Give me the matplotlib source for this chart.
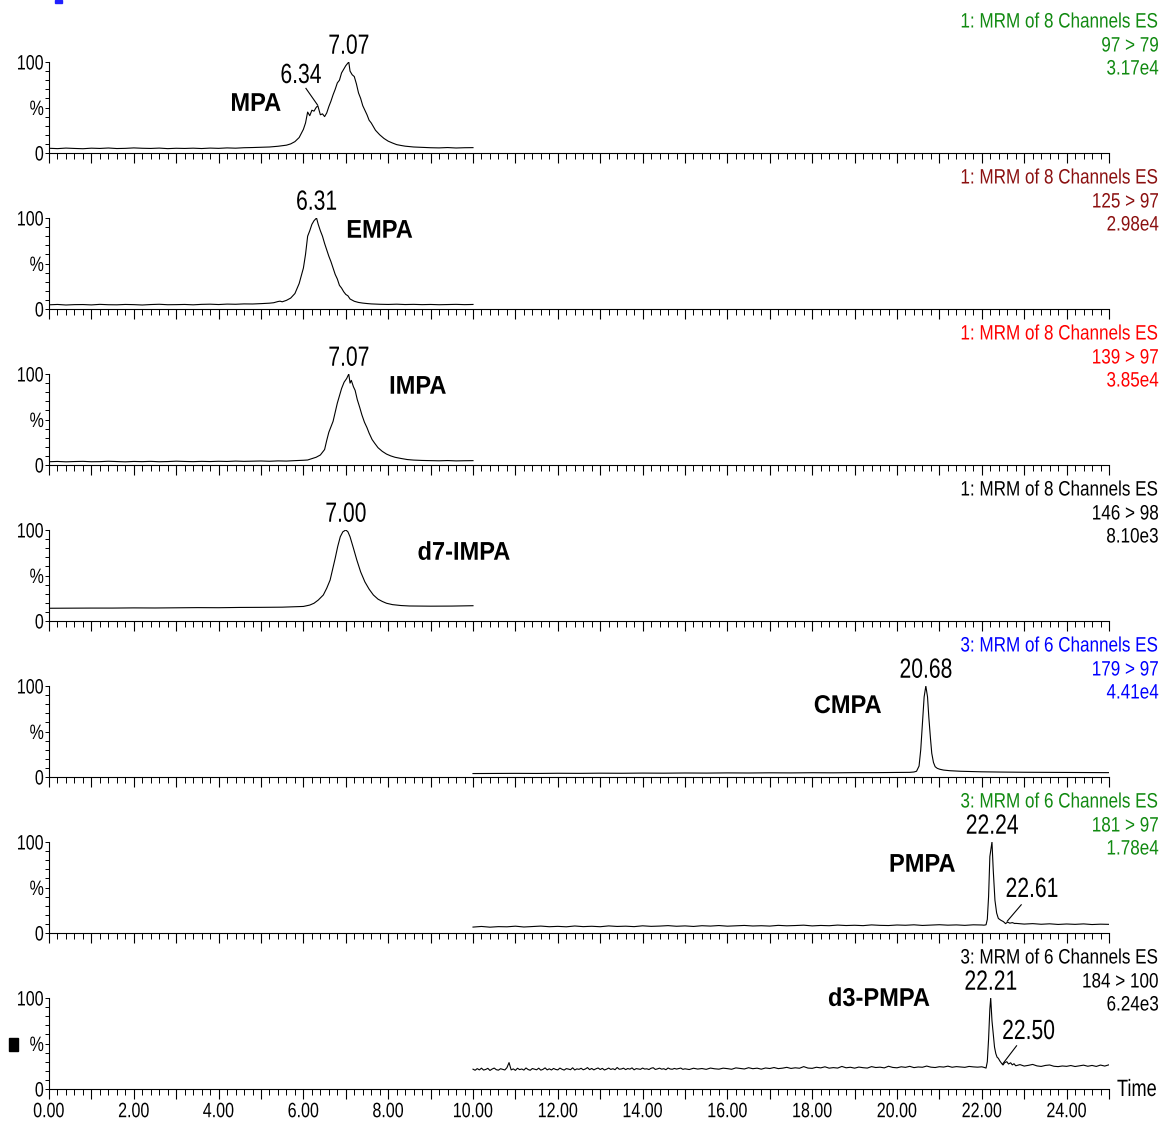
import numpy as np
import matplotlib
matplotlib.use("Agg")
import matplotlib.pyplot as plt
from matplotlib.ticker import MultipleLocator, FixedLocator, FuncFormatter
from matplotlib.patches import Rectangle
from matplotlib.patheffects import AbstractPathEffect
from matplotlib.transforms import Affine2D

plt.rcParams['font.family'] = ['Liberation Sans', 'DejaVu Sans']

# ---------------------------------------------------------------- data
# Each trace: uniform baseline scans before the peak, explicit points
# across the peak, uniform baseline scans after it (time in min, % of max).

# MPA  (97 > 79)
mpa_pre_start, mpa_pre_step = 0.0, 0.2
mpa_pre = [5.2, 4.8, 5.4, 5.0, 4.7, 5.3, 5.0, 5.5, 4.9, 5.1,
           5.6, 5.2, 5.0, 5.4, 4.8, 5.2, 5.0, 5.3, 4.9, 5.4,
           5.1, 5.6, 5.3, 5.8, 6.0, 6.3]
mpa_pk_t = [5.2, 5.4, 5.6, 5.7, 5.8, 5.9, 6.0, 6.05, 6.1, 6.15, 6.2, 6.25, 6.3,
            6.34, 6.4, 6.45, 6.5, 6.55, 6.6, 6.65, 6.7, 6.75, 6.8, 6.85, 6.9,
            6.95, 7.0, 7.07, 7.1, 7.15, 7.2, 7.25, 7.3, 7.35, 7.4, 7.45, 7.5,
            7.55, 7.6, 7.7, 7.8, 7.9, 8.0, 8.1, 8.2, 8.3, 8.4]
mpa_pk_y = [6.6, 7.4, 8.6, 10.0, 12.5, 17.0, 26.0, 33.0, 45.0, 41.0, 47.0, 46.0, 50.0,
            52.0, 42.0, 43.0, 40.0, 44.0, 51.0, 57.0, 64.0, 70.0, 77.0, 80.0, 88.0,
            92.0, 96.0, 100.0, 90.0, 86.0, 84.0, 76.0, 66.0, 60.0, 52.0, 47.0, 42.0,
            36.0, 33.0, 25.0, 20.0, 16.0, 13.0, 11.0, 9.2, 8.3, 7.5]
mpa_post_start, mpa_post_step = 8.6, 0.2
mpa_post = [6.6, 6.2, 5.8, 5.6, 6.0, 5.5, 5.8, 5.9]

# EMPA (125 > 97)
empa_pre_start, empa_pre_step = 0.0, 0.2
empa_pre = [4.6, 5.0, 4.4, 4.8, 4.9, 4.5, 5.1, 4.7, 4.6, 5.0,
            4.8, 4.4, 4.9, 5.2, 4.7, 4.8, 5.0, 4.6, 5.1, 5.3,
            4.9, 5.4, 5.2, 5.6, 5.5, 5.9]
empa_pk_t = [5.2, 5.3, 5.4, 5.45, 5.5, 5.6, 5.7, 5.8, 5.9, 6.0, 6.05, 6.1, 6.15,
             6.2, 6.25, 6.31, 6.35, 6.4, 6.45, 6.5, 6.55, 6.6, 6.65, 6.7, 6.75,
             6.8, 6.85, 6.9, 6.95, 7.0, 7.05, 7.1, 7.2, 7.3, 7.4, 7.5]
empa_pk_y = [6.4, 6.9, 8.2, 8.6, 7.9, 9.5, 12.0, 17.0, 28.0, 45.0, 60.0, 80.0, 86.0,
             93.0, 97.0, 100.0, 93.0, 86.0, 80.0, 72.0, 65.0, 58.0, 52.0, 45.0, 38.0,
             33.0, 26.0, 23.0, 19.0, 16.0, 14.5, 11.0, 8.5, 7.2, 6.5, 6.0]
empa_post_start, empa_post_step = 7.6, 0.2
empa_post = [5.6, 5.2, 5.0, 5.3, 4.9, 5.1, 4.8, 5.0, 4.7, 4.9, 5.1, 4.8, 5.0]

# IMPA (139 > 97)
impa_pre_start, impa_pre_step = 0.0, 0.2
impa_pre = [3.6, 3.9, 3.5, 3.8, 4.0, 3.6, 3.7, 4.1, 3.8, 3.5,
            3.9, 3.7, 4.0, 3.6, 3.8, 4.2, 3.9, 3.7, 4.0, 3.8,
            4.1, 3.9, 4.3, 4.0, 4.2, 4.4, 4.1, 4.5, 4.3, 4.8,
            5.2]
impa_pk_t = [6.1, 6.2, 6.3, 6.4, 6.5, 6.55, 6.6, 6.65, 6.7, 6.75, 6.8, 6.85, 6.9,
             6.96, 7.02, 7.07, 7.1, 7.13, 7.18, 7.22, 7.27, 7.33, 7.38, 7.44, 7.5,
             7.55, 7.62, 7.68, 7.76, 7.86, 7.96, 8.06, 8.16, 8.3, 8.45]
impa_pk_y = [5.5, 7.0, 8.5, 11.0, 17.0, 27.0, 36.0, 42.0, 48.0, 58.0, 68.0, 76.0, 84.0,
             91.0, 95.0, 100.0, 90.0, 93.0, 86.0, 82.0, 72.0, 63.0, 55.0, 47.0, 41.0,
             35.0, 28.0, 24.0, 19.0, 15.0, 12.0, 10.0, 8.5, 7.2, 6.0]
impa_post_start, impa_post_step = 8.6, 0.2
impa_post = [5.4, 5.0, 4.8, 4.6, 4.9, 4.5, 4.7, 4.8]

# d7-IMPA (146 > 98)
d7_pre_start, d7_pre_step = 0.0, 0.5
d7_pre = [14.0, 14.1, 14.2, 14.2, 14.4, 14.3, 14.5, 14.7, 14.6, 14.9, 15.0, 15.2, 16.0]
d7_pk_t = [6.15, 6.25, 6.35, 6.47, 6.55, 6.63, 6.69, 6.75, 6.81, 6.87, 6.93, 7.0,
           7.05, 7.1, 7.18, 7.26, 7.35, 7.45, 7.55, 7.65, 7.76, 7.86, 7.96, 8.1, 8.3]
d7_pk_y = [17.5, 19.5, 23.0, 28.6, 36.0, 45.0, 57.0, 69.0, 82.0, 92.6, 98.0, 100.0,
           98.0, 92.6, 80.0, 67.0, 54.0, 43.0, 35.0, 28.6, 24.0, 21.5, 19.5, 18.0, 17.0]
d7_post_start, d7_post_step = 8.5, 0.5
d7_post = [16.5, 16.3, 16.4, 16.8]

# CMPA (179 > 97)
cmpa_pre_start, cmpa_pre_step = 10.0, 0.5
cmpa_pre = [3.8, 3.9, 4.0, 3.9, 4.1, 4.0, 4.2, 4.1, 4.3, 4.2,
            4.4, 4.3, 4.5, 4.4, 4.6, 4.5, 4.7, 4.6, 4.8, 4.8, 5.0]
cmpa_pk_t = [20.3, 20.4, 20.46, 20.52, 20.56, 20.6, 20.64, 20.68, 20.72, 20.75,
             20.79, 20.82, 20.86, 20.9, 20.95, 21.01, 21.1, 21.25, 21.5]
cmpa_pk_y = [5.1, 5.5, 6.3, 12.0, 30.0, 59.0, 88.0, 100.0, 88.0, 66.0,
             42.0, 26.0, 16.0, 11.3, 9.5, 8.5, 7.6, 6.9, 6.3]
cmpa_post_start, cmpa_post_step = 22.0, 0.5
cmpa_post = [5.7, 5.4, 5.2, 5.1, 5.0, 4.9, 4.8]

# PMPA (181 > 97)
pmpa_pre_start, pmpa_pre_step = 10.0, 0.2
pmpa_pre = [6.5, 7.2, 6.4, 7.0, 6.8, 7.5, 6.6, 7.1, 7.6, 6.9,
            7.3, 6.8, 7.7, 7.0, 7.4, 6.9, 7.8, 7.2, 7.5, 7.0,
            7.9, 7.3, 7.6, 8.1, 7.4, 7.8, 7.2, 8.0, 7.6, 8.2,
            7.5, 7.9, 8.3, 7.7, 8.0, 7.6, 8.4, 7.9, 8.2, 8.6,
            7.8, 8.3, 8.0, 8.7, 8.2, 8.5, 8.1, 8.9, 8.4, 8.2,
            8.8, 8.5, 9.0, 8.3, 8.7, 9.1, 8.6, 8.9, 8.4, 9.0,
            8.8]
pmpa_pk_t = [22.05, 22.1, 22.13, 22.16, 22.19, 22.24, 22.27, 22.31, 22.35, 22.39,
             22.45, 22.51, 22.56, 22.61, 22.66, 22.72, 22.78]
pmpa_pk_y = [8.6, 9.0, 15.0, 40.0, 84.0, 100.0, 69.0, 36.0, 22.0, 16.0,
             14.0, 12.5, 10.3, 12.0, 10.8, 11.4, 10.4]
pmpa_post_start, pmpa_post_step = 22.8, 0.2
pmpa_post = [10.6, 9.8, 10.3, 9.6, 10.1, 9.4, 9.9, 9.5, 10.0, 9.3, 9.7, 9.5]

# d3-PMPA (184 > 100)
d3_pre_start, d3_pre_step = 10.0, 0.05
d3_pre = [21.8, 20.6, 22.4, 21.0, 22.9, 20.8, 21.5, 22.7, 20.4, 21.9,
          23.0, 21.2, 20.7, 22.3, 21.6, 20.9, 23.4, 29.0, 21.0, 22.1,
          20.5, 22.8, 21.3, 22.0, 20.8, 23.1, 21.4, 20.6, 22.5, 21.8,
          21.1, 22.9, 20.7, 21.6, 23.2, 21.0, 22.2, 20.9, 22.6, 21.5,
          21.0, 23.0, 21.7, 20.8, 22.4, 21.9, 21.2, 23.3, 20.9, 22.1,
          21.6, 22.8, 21.1, 22.0, 23.5, 21.3, 22.6, 21.0, 22.2, 23.1,
          21.4, 22.7, 20.9, 21.8, 23.0, 21.5, 22.3, 21.2, 23.6, 21.7,
          22.0, 22.9, 21.3, 22.5, 21.8, 23.2, 21.1, 22.4, 22.0, 21.6,
          23.0, 21.9, 22.2, 21.4, 22.8, 23.4, 21.5, 22.1, 22.9, 21.8,
          22.3, 21.2, 23.1, 22.0, 21.7, 22.6, 21.9, 22.4, 23.0, 21.6,
          22.2]
d3_mid_start, d3_mid_step = 15.1, 0.1
d3_mid = [21.4, 22.8, 21.9, 22.5, 21.6, 23.0, 22.2, 21.8, 22.9, 22.4,
          21.7, 23.2, 22.6, 22.0, 23.4, 22.3, 22.9, 21.8, 23.1, 22.5,
          23.6, 22.4, 22.9, 23.8, 22.6, 23.3, 22.8, 24.6, 23.0, 22.7,
          23.9, 23.2, 24.4, 22.9, 23.5, 23.0, 24.8, 23.3, 23.9, 22.9,
          24.1, 23.4, 23.0, 24.6, 23.6, 24.0, 23.2, 25.0, 23.7, 23.3,
          24.4, 23.8, 24.9, 23.5, 24.2, 23.9, 25.2, 24.0, 23.6, 24.5,
          24.1, 25.1, 23.9, 24.6, 24.2, 23.8, 24.8, 24.3, 24.0, 24.4]
d3_pk_t = [22.05, 22.1, 22.13, 22.16, 22.19, 22.21, 22.24, 22.27, 22.3, 22.33,
           22.36, 22.39, 22.43, 22.47, 22.5, 22.54, 22.59, 22.63, 22.68, 22.72, 22.76]
d3_pk_y = [23.8, 23.0, 30.0, 55.0, 88.0, 100.0, 75.0, 61.0, 46.0, 39.0,
           35.0, 33.7, 30.5, 28.0, 26.4, 29.0, 30.0, 27.5, 28.8, 26.5, 27.8]
d3_post_start, d3_post_step = 22.8, 0.1
d3_post = [25.5, 26.8, 25.2, 26.0, 27.0, 25.4, 24.8, 25.9, 26.4, 25.0,
           24.6, 25.3, 24.9, 25.8, 24.7, 25.5, 26.2, 25.0, 25.9, 24.8,
           26.3, 25.2, 26.6]

# ------------------------------------------------------- panel metadata
compounds = ["MPA", "EMPA", "IMPA", "d7-IMPA", "CMPA", "PMPA", "d3-PMPA"]
functions = ["1: MRM of 8 Channels ES"] * 4 + ["3: MRM of 6 Channels ES"] * 3
transitions = ["97 > 79", "125 > 97", "139 > 97", "146 > 98",
               "179 > 97", "181 > 97", "184 > 100"]
intensities = ["3.17e4", "2.98e4", "3.85e4", "8.10e3", "4.41e4", "1.78e4", "6.24e3"]
header_colors = ["#118a11", "#8b1010", "#ff0000", "#000000",
                 "#0000ff", "#118a11", "#000000"]

# retention times labelled directly above an apex
apex_labels = [[7.07], [6.31], [7.07], [7.00], [20.68], [22.24], [22.21]]
# retention times labelled beside the peak with a leader line:
# (time, label x, label y, leader start x, leader start y)
leader_labels = [[(6.34, 5.94, 84.6, 6.06, 71.0)], [], [], [], [],
                 [(22.61, 23.18, 47.3, 22.93, 31.0)],
                 [(22.50, 23.10, 62.6, 22.82, 47.5)]]
# compound name positions (time, %)
name_pos = [(4.88, 54), (7.8, 86), (8.7, 86), (9.79, 75),
            (18.84, 78), (20.6, 75), (19.58, 99)]

x_ticks_major = list(range(0, 26))


class Squeeze(AbstractPathEffect):
    """Draw glyph outlines compressed horizontally about an anchor edge."""

    def __init__(self, sx, anchor="center"):
        super().__init__()
        self.sx = sx
        self.anchor = anchor

    def draw_path(self, renderer, gc, tpath, affine, rgbFace=None):
        ext = tpath.get_extents(affine)
        if self.anchor == "left":
            x0 = ext.x0
        elif self.anchor == "right":
            x0 = ext.x1
        else:
            x0 = 0.5 * (ext.x0 + ext.x1)
        tr = affine + Affine2D().translate(-x0, 0).scale(self.sx, 1.0).translate(x0, 0)
        renderer.draw_path(gc, tpath, tr, rgbFace)


def build(pre_start, pre_step, pre, pk_t, pk_y, post_start, post_step, post,
          mid=None):
    t = [pre_start + pre_step * i for i in range(len(pre))]
    y = list(pre)
    if mid is not None:
        m_start, m_step, m_vals = mid
        t += [m_start + m_step * i for i in range(len(m_vals))]
        y += list(m_vals)
    t += list(pk_t)
    y += list(pk_y)
    t += [post_start + post_step * i for i in range(len(post))]
    y += list(post)
    return np.array(t), np.array(y)


traces = [
    build(mpa_pre_start, mpa_pre_step, mpa_pre, mpa_pk_t, mpa_pk_y,
          mpa_post_start, mpa_post_step, mpa_post),
    build(empa_pre_start, empa_pre_step, empa_pre, empa_pk_t, empa_pk_y,
          empa_post_start, empa_post_step, empa_post),
    build(impa_pre_start, impa_pre_step, impa_pre, impa_pk_t, impa_pk_y,
          impa_post_start, impa_post_step, impa_post),
    build(d7_pre_start, d7_pre_step, d7_pre, d7_pk_t, d7_pk_y,
          d7_post_start, d7_post_step, d7_post),
    build(cmpa_pre_start, cmpa_pre_step, cmpa_pre, cmpa_pk_t, cmpa_pk_y,
          cmpa_post_start, cmpa_post_step, cmpa_post),
    build(pmpa_pre_start, pmpa_pre_step, pmpa_pre, pmpa_pk_t, pmpa_pk_y,
          pmpa_post_start, pmpa_post_step, pmpa_post),
    build(d3_pre_start, d3_pre_step, d3_pre, d3_pk_t, d3_pk_y,
          d3_post_start, d3_post_step, d3_post,
          mid=(d3_mid_start, d3_mid_step, d3_mid)),
]

# ---------------------------------------------------------------- figure
W, H = 1160, 1124
fig = plt.figure(figsize=(W / 100, H / 100), dpi=100)

ax_left, ax_right = 49, 1109
panel_h = 91
panel_gap = 156
first_base = 153

SX_TEXT = 0.77
axes_list = []

for k, (t, y) in enumerate(traces):
    base_px = first_base + panel_gap * k
    ax = fig.add_axes([ax_left / W, (H - base_px) / H,
                       (ax_right - ax_left) / W, panel_h / H])
    axes_list.append(ax)
    ax.plot(t, y, color="black", lw=0.8)
    ax.set_xlim(0, 25)
    ax.set_ylim(0, 100)
    ax.patch.set_alpha(0)
    for s in ("top", "right"):
        ax.spines[s].set_visible(False)
    for s in ("left", "bottom"):
        ax.spines[s].set_linewidth(0.8)

    # x axis: minute ticks with 0.2 min minor ticks
    ax.xaxis.set_major_locator(FixedLocator(x_ticks_major))
    ax.xaxis.set_minor_locator(MultipleLocator(0.2))
    ax.tick_params(axis="x", which="major", direction="out", length=7.5,
                   width=0.8, pad=2, labelsize=15)
    ax.tick_params(axis="x", which="minor", direction="out", length=4, width=0.7)
    if k == len(traces) - 1:
        ax.xaxis.set_major_formatter(
            FuncFormatter(lambda v, p: f"{v:.2f}" if int(round(v)) % 2 == 0 else ""))
    else:
        ax.tick_params(axis="x", labelbottom=False)

    # y axis: 0 / % / 100 with 10 % minor ticks
    ax.set_yticks([0, 50, 100])
    ax.set_yticklabels(["0", "%", "100"])
    ax.yaxis.set_minor_locator(MultipleLocator(10))
    ax.tick_params(axis="y", which="both", direction="out", length=3,
                   width=0.7, pad=0.5, labelsize=15)

    # apex retention-time labels
    for rt in apex_labels[k]:
        yv = float(np.interp(rt, t, y))
        ax.text(rt, yv + 2.5, f"{rt:.2f}", ha="center", va="bottom",
                fontsize=20, clip_on=False,
                path_effects=[Squeeze(0.76, "center")])
    for rt, lx, ly, sx0, sy0 in leader_labels[k]:
        yv = float(np.interp(rt, t, y))
        ax.text(lx, ly, f"{rt:.2f}", ha="center", va="center", fontsize=20,
                clip_on=False, path_effects=[Squeeze(0.76, "center")])
        ax.plot([sx0, rt - 0.01], [sy0, yv + 1.0], color="black", lw=0.8,
                clip_on=False)

    nx, ny = name_pos[k]
    ax.text(nx, ny, compounds[k], ha="center", va="center", fontsize=18.5,
            fontweight="bold", clip_on=False,
            path_effects=[Squeeze(0.92, "center")])

    # acquisition header, right aligned at the page edge
    hx = 1159 / W
    for txt, off in ((functions[k], 131), (transitions[k], 107), (intensities[k], 84)):
        fig.text(hx, 1 - (base_px - off) / H, txt, ha="right", va="center",
                 fontsize=15, color=header_colors[k],
                 path_effects=[Squeeze(0.82, "right")])

fig.text(1157 / W, 1 - 1090 / H, "Time", ha="right", va="center", fontsize=17,
         path_effects=[Squeeze(SX_TEXT, "right")])

# small page marks
fig.patches.append(Rectangle((9 / W, 1 - 1051 / H), 9 / W, 13 / H,
                             transform=fig.transFigure, color="black"))
fig.patches.append(Rectangle((55 / W, 1 - 3 / H), 7 / W, 3 / H,
                             transform=fig.transFigure, color="#2020ff"))

# condensed tick labels
fig.canvas.draw()
for ax in axes_list:
    for lab in ax.get_yticklabels():
        lab.set_path_effects([Squeeze(SX_TEXT, "right")])
    for lab in ax.get_xticklabels():
        lab.set_path_effects([Squeeze(SX_TEXT, "center")])

fig.savefig("out.png", dpi=100)
